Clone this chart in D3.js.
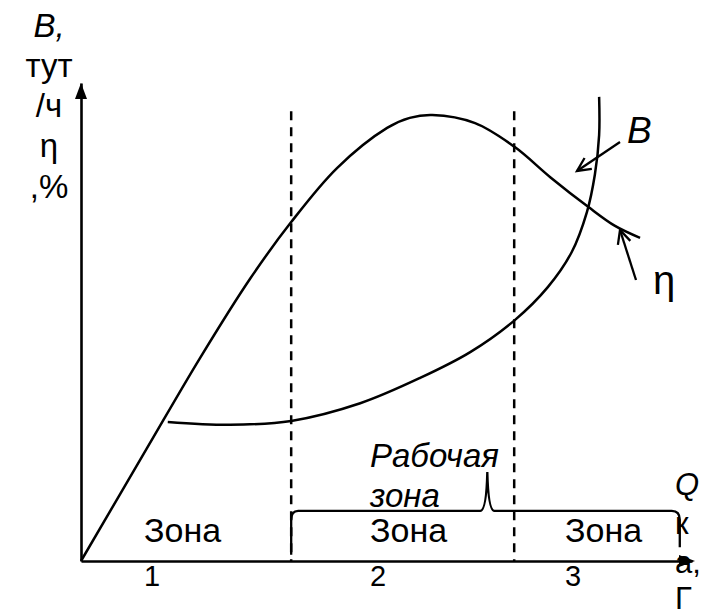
<!DOCTYPE html>
<html><head><meta charset="utf-8">
<script src="https://cdn.jsdelivr.net/npm/d3@7"></script>
<style>html,body{margin:0;padding:0;background:#fff;}svg{display:block;}</style>
</head><body>
<svg id="c" width="702" height="615"></svg>
<script>
// ---- data (abstract schematic units, 0..10 on both axes) ----
const etaX = [0, 1.08, 1.95, 2.77, 3.44, 4.19, 5.01, 5.38, 5.75, 6.45, 7.10, 7.68, 8.30, 8.74, 9.15];
const etaY = [0, 2.36, 4.25, 5.91, 7.09, 8.22, 9.06, 9.27, 9.33, 9.16, 8.66, 8.03, 7.41, 7.01, 6.76];
const bX = [1.42, 2.44, 3.44, 4.57, 5.55, 6.37, 7.10, 7.64, 8.03, 8.28, 8.41, 8.48, 8.48];
const bY = [2.91, 2.85, 2.93, 3.30, 3.83, 4.37, 5.04, 5.73, 6.46, 7.30, 8.08, 8.91, 9.71];
const zoneBounds = [0, 3.44, 7.09, 9.80];
const dashTop = 9.41;
const zoneWords = ["Зона", "Зона", "Зона"];
const zoneNums = ["1", "2", "3"];
const workZone = ["Рабочая", "зона"];
const yLabelLines = ["B,", "тут", "/ч", "η", ",%"];
const xLabelLines = ["Q", "к", "а,", "Г"];
const curveNames = ["B", "η"];

const svg = d3.select("#c");
const font = "'Liberation Sans', Arial, sans-serif";
const x = d3.scaleLinear().domain([0, 10]).range([81, 692]);
const y = d3.scaleLinear().domain([0, 10]).range([561, 83]);

// axes
svg.append("g").attr("transform", `translate(0,${y(0)})`)
  .call(d3.axisBottom(x).tickValues([]).tickSizeOuter(0));
svg.append("g").attr("transform", `translate(${x(0)},0)`)
  .call(d3.axisLeft(y).tickValues([]).tickSizeOuter(0));
svg.selectAll(".domain").attr("stroke", "#000").attr("stroke-width", 2.6);
svg.append("path").attr("d", `M${x(0)},${y(10)} L${x(0)-6},${y(10)+16} L${x(0)+6},${y(10)+16} Z`).attr("fill", "#000");
svg.append("path").attr("d", `M${x(10)+3},${y(0)} L${x(10)-13},${y(0)-6} L${x(10)-13},${y(0)+6} Z`).attr("fill", "#000");

// dashed zone boundaries
svg.selectAll("line.zone").data(zoneBounds.slice(1, 3)).enter().append("line")
  .attr("x1", d => x(d)).attr("x2", d => x(d))
  .attr("y1", y(dashTop)).attr("y2", y(0))
  .attr("stroke", "#000").attr("stroke-width", 2.5).attr("stroke-dasharray", "9,7");

const line = d3.line().x(d => x(d[0])).y(d => y(d[1])).curve(d3.curveCatmullRom.alpha(0.5));
svg.append("path").attr("d", line(etaX.map((v, i) => [v, etaY[i]])))
  .attr("fill", "none").attr("stroke", "#000").attr("stroke-width", 2.5);
svg.append("path").attr("d", line(bX.map((v, i) => [v, bY[i]])))
  .attr("fill", "none").attr("stroke", "#000").attr("stroke-width", 2.5);

// brace for working zone
const bx0 = x(zoneBounds[1]), bx1 = x(zoneBounds[3]), by = y(1.05), peakX = x(6.65), peakY = y(1.86);
svg.append("path").attr("d",
  `M${bx0},${y(0.13)} L${bx0},${by+9} Q${bx0},${by} ${bx0+7},${by} L${peakX-7},${by} Q${peakX-1},${by} ${peakX},${peakY} Q${peakX+1},${by} ${peakX+7},${by} L${bx1-8},${by} Q${bx1},${by} ${bx1},${by+9} L${bx1},${y(0.29)}`)
  .attr("fill", "none").attr("stroke", "#000").attr("stroke-width", 2.3);

// annotation arrows
function arrow(x1, y1, x2, y2) {
  svg.append("line").attr("x1", x1).attr("y1", y1).attr("x2", x2).attr("y2", y2)
    .attr("stroke", "#000").attr("stroke-width", 2.3);
  const a = Math.atan2(y1 - y2, x1 - x2), L = 15, s = 0.45;
  svg.append("path").attr("d",
    `M${x2 + L*Math.cos(a+s)},${y2 + L*Math.sin(a+s)} L${x2},${y2} L${x2 + L*Math.cos(a-s)},${y2 + L*Math.sin(a-s)}`)
    .attr("fill", "none").attr("stroke", "#000").attr("stroke-width", 2.3);
}
arrow(620, 142, 577, 171);
arrow(636, 280, 620, 230);

// texts
function txt(s, tx, ty, size, italic, anchor) {
  svg.append("text").attr("x", tx).attr("y", ty).text(s)
    .attr("font-family", font).attr("font-size", size)
    .attr("font-style", italic ? "italic" : "normal")
    .attr("text-anchor", anchor || "start").attr("fill", "#000");
}
const yBase = [37, 77, 117, 157, 198];
yLabelLines.forEach((s, i) => txt(s, 49, yBase[i], 33, i === 0, "middle"));
const xBase = [495, 534, 573, 609];
xLabelLines.forEach((s, i) => txt(s, 675, xBase[i], 31, i === 0, "start"));
const zoneTx = [144, 370, 565];
zoneWords.forEach((s, i) => txt(s, zoneTx[i], 542, 34, false));
zoneNums.forEach((s, i) => txt(s, zoneTx[i], 586, 29, false));
txt(workZone[0], 370, 467, 33, true);
txt(workZone[1], 370, 507, 33, true);
txt(curveNames[0], 627, 143, 37, true);
txt(curveNames[1], 653, 294, 40, false);
</script>
</body></html>
